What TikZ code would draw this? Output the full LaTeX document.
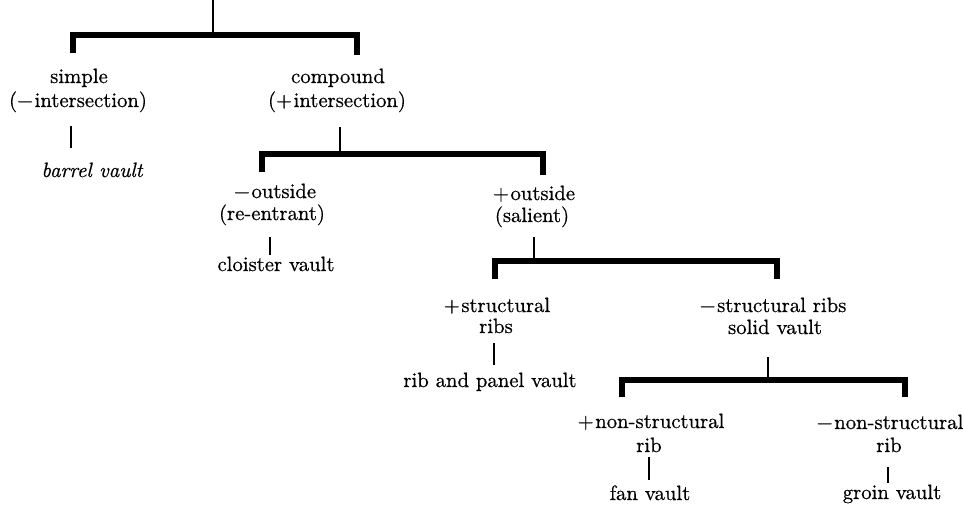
\documentclass[tikz,border=0pt]{standalone}
\usepackage{fontspec}
\setmainfont{lmroman10-regular.otf}[ItalicFont=lmroman10-italic.otf, FakeBold=0.6]
\newcommand{\mns}{−\kern1.5pt}
\newcommand{\pls}{+\kern1.5pt}
\begin{document}
\begin{tikzpicture}[x=1pt,y=-1pt,
  lbl/.style={inner sep=0pt, anchor=base, font=\fontsize{20.7}{24}\selectfont},
  bar/.style={line width=5.5pt, line join=miter, line cap=butt},
  stem/.style={line width=2.5pt, line cap=butt}]
\useasboundingbox (0,0) rectangle (964,504);

% ---- labels ----
\node[lbl] (simpleA) at (79,83) {simple};
\node[lbl] (simpleB) at (78,107) {(\mns intersection)};
\node[lbl] (barrel)  at (92,177) {\itshape barrel vault};

\node[lbl] (compA) at (338,83) {compound};
\node[lbl] (compB) at (337,107) {(\pls intersection)};

\node[lbl] (reA) at (275,198) {\mns outside};
\node[lbl] (reB) at (272,220) {(re-entrant)};
\node[lbl] (cloister) at (276,271) {cloister vault};

\node[lbl] (salA) at (534,200) {\pls outside};
\node[lbl] (salB) at (532,222) {(salient)};

\node[lbl] (strA) at (497,312) {\pls structural};
\node[lbl] (strB) at (496,333) {ribs};
\node[lbl] (ribpanel) at (490,387) {rib and panel vault};

\node[lbl] (solA) at (773,312) {\mns structural ribs};
\node[lbl] (solB) at (775,334) {solid vault};

\node[lbl] (fanA) at (651,428) {\pls non-structural};
\node[lbl] (fanB) at (649,452) {rib};
\node[lbl] (fan)  at (650,500) {fan vault};

\node[lbl] (groA) at (890,429) {\mns non-structural};
\node[lbl] (groB) at (889,452) {rib};
\node[lbl] (groin) at (892,499) {groin vault};

% ---- connector points ----
\coordinate (r0) at (213,0);    \coordinate (r1) at (213,35);
\coordinate (b1a) at (73,53);   \coordinate (b1b) at (73,35);
\coordinate (b1c) at (357,35);  \coordinate (b1d) at (357,55);

\coordinate (s1a) at (71,126);  \coordinate (s1b) at (71,148);

\coordinate (c0) at (340,127);  \coordinate (c1) at (340,154);
\coordinate (b2a) at (262,172); \coordinate (b2b) at (262,154);
\coordinate (b2c) at (543,154); \coordinate (b2d) at (543,175);

\coordinate (s2a) at (270,237); \coordinate (s2b) at (270,255);

\coordinate (o0) at (534,237);  \coordinate (o1) at (534,261);
\coordinate (b3a) at (495,279); \coordinate (b3b) at (495,261);
\coordinate (b3c) at (777,261); \coordinate (b3d) at (777,279);

\coordinate (s3a) at (494,343); \coordinate (s3b) at (494,365);

\coordinate (v0) at (768,357);  \coordinate (v1) at (768,380);
\coordinate (b4a) at (622,397); \coordinate (b4b) at (622,380);
\coordinate (b4c) at (905,380); \coordinate (b4d) at (905,397);

\coordinate (s4a) at (649,457); \coordinate (s4b) at (649,480);
\coordinate (s5a) at (888,467); \coordinate (s5b) at (888,483);

% ---- connectors ----
\draw[stem] (r0) -- (r1);
\draw[bar] (b1a) -- (b1b) -- (b1c) -- (b1d);
\draw[stem] (s1a) -- (s1b);

\draw[stem] (c0) -- (c1);
\draw[bar] (b2a) -- (b2b) -- (b2c) -- (b2d);
\draw[stem] (s2a) -- (s2b);

\draw[stem] (o0) -- (o1);
\draw[bar] (b3a) -- (b3b) -- (b3c) -- (b3d);
\draw[stem] (s3a) -- (s3b);

\draw[stem] (v0) -- (v1);
\draw[bar] (b4a) -- (b4b) -- (b4c) -- (b4d);
\draw[stem] (s4a) -- (s4b);
\draw[stem] (s5a) -- (s5b);
\end{tikzpicture}
\end{document}
